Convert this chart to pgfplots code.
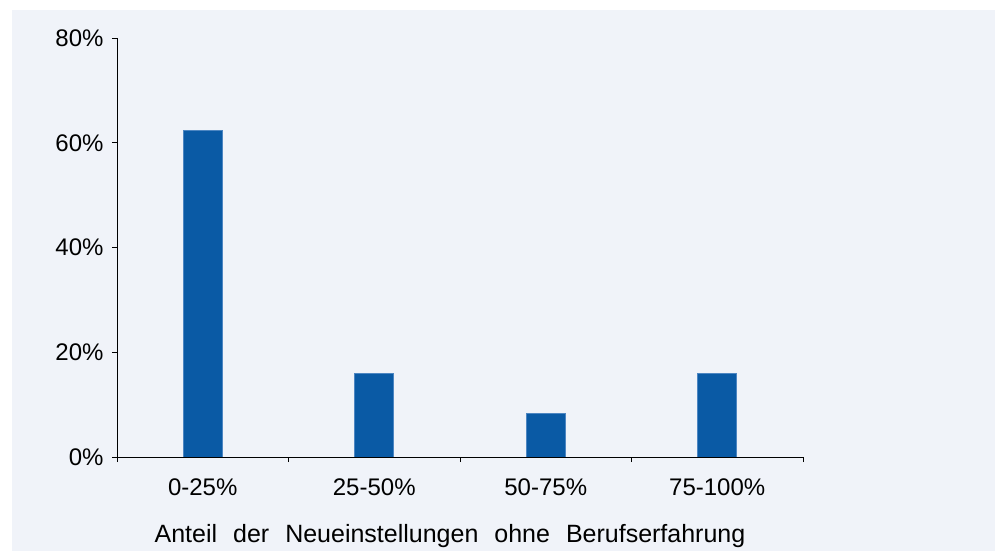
\documentclass[border=0pt]{standalone}
\usepackage{fontspec}
\setmainfont{Liberation Sans}
\usepackage{pgfplots}
\pgfplotsset{compat=1.18}
\definecolor{panel}{HTML}{F0F3F9}
\definecolor{barblue}{HTML}{0A5AA5}
\definecolor{baredge}{HTML}{4D86C2}
\begin{document}
\begin{tikzpicture}
\useasboundingbox (0,0) rectangle (995bp,551bp);
\fill[white] (0,0) rectangle (995bp,551bp);
\fill[panel] (12bp,0) rectangle (995bp,541bp);
\begin{axis}[
  at={(117bp,94bp)}, anchor=south west,
  scale only axis, width=686bp, height=419bp,
  xmin=-0.5, xmax=3.5, ymin=0, ymax=80,
  axis x line*=bottom, axis y line*=left,
  axis line style={black, line width=0.8bp},
  ytick={0,20,40,60,80},
  yticklabel={\pgfmathprintnumber{\tick}\%},
  xtick={0,1,2,3},
  xticklabels={0-25\%,25-50\%,50-75\%,75-100\%},
  minor xtick={-0.5,0.5,1.5,2.5,3.5},
  tick align=outside,
  major tick length=5bp,
  minor tick length=5bp,
  major x tick style={draw=none},
  tick style={black, line width=0.8bp},
  /pgf/number format/assume math mode=true,
  tick label style={font=\fontsize{24bp}{28bp}\selectfont},
  xticklabel style={yshift=-13bp},
  yticklabel style={xshift=-5bp},
  ybar, bar width=39bp,
  xlabel={\spaceskip=16bp\relax Anteil der Neueinstellungen ohne Berufserfahrung},
  xlabel style={at={(axis description cs:0.4854,-0.205)}, anchor=base, font=\fontsize{25bp}{30bp}\selectfont},
]
\addplot[fill=barblue, draw=baredge, line width=0.6bp] coordinates {(0,62.4) (1,16) (2,8.3) (3,16)};
\end{axis}
\end{tikzpicture}
\end{document}
